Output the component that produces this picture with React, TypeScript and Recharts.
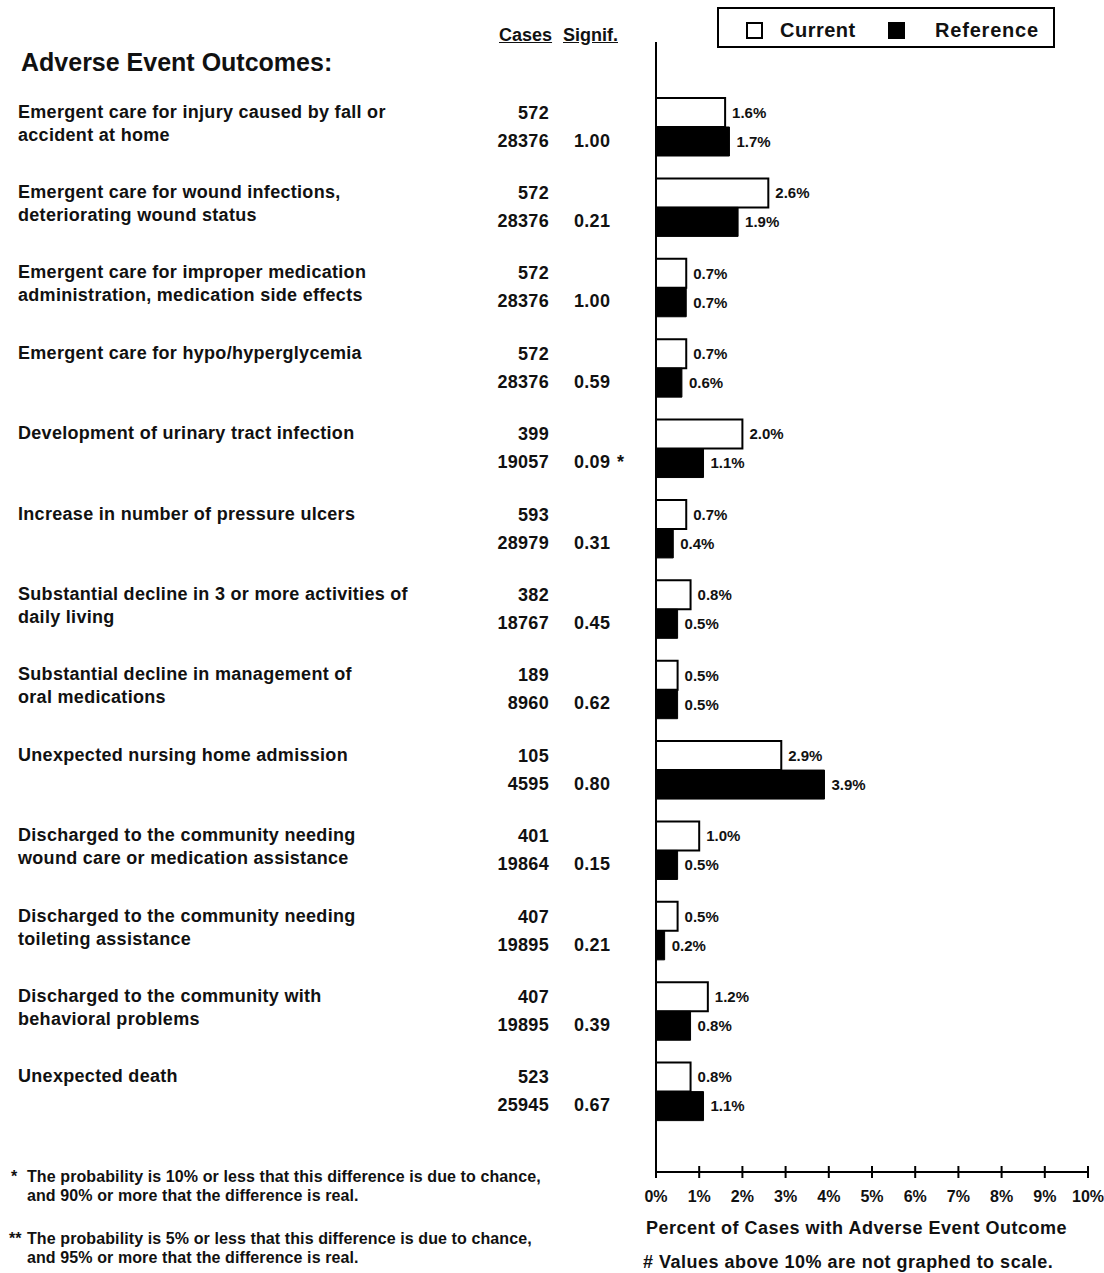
import React from 'react';
import { BarChart, Bar, XAxis, YAxis, LabelList, Legend } from 'recharts';

const FONT = '"Liberation Sans", Arial, Helvetica, sans-serif';

const categoryLines: string[][] = [
  ['Emergent care for injury caused by fall or', 'accident at home'],
  ['Emergent care for wound infections,', 'deteriorating wound status'],
  ['Emergent care for improper medication', 'administration, medication side effects'],
  ['Emergent care for hypo/hyperglycemia'],
  ['Development of urinary tract infection'],
  ['Increase in number of pressure ulcers'],
  ['Substantial decline in 3 or more activities of', 'daily living'],
  ['Substantial decline in management of', 'oral medications'],
  ['Unexpected nursing home admission'],
  ['Discharged to the community needing', 'wound care or medication assistance'],
  ['Discharged to the community needing', 'toileting assistance'],
  ['Discharged to the community with', 'behavioral problems'],
  ['Unexpected death'],
];
const currentPct = [1.6, 2.6, 0.7, 0.7, 2.0, 0.7, 0.8, 0.5, 2.9, 1.0, 0.5, 1.2, 0.8];
const referencePct = [1.7, 1.9, 0.7, 0.6, 1.1, 0.4, 0.5, 0.5, 3.9, 0.5, 0.2, 0.8, 1.1];
const currentCases = [572, 572, 572, 572, 399, 593, 382, 189, 105, 401, 407, 407, 523];
const referenceCases = [28376, 28376, 28376, 28376, 19057, 28979, 18767, 8960, 4595, 19864, 19895, 19895, 25945];
const signif = ['1.00', '0.21', '1.00', '0.59', '0.09', '0.31', '0.45', '0.62', '0.80', '0.15', '0.21', '0.39', '0.67'];
const signifMark = ['', '', '', '', '*', '', '', '', '', '', '', '', ''];
const xTicks = [0, 1, 2, 3, 4, 5, 6, 7, 8, 9, 10];

const data = categoryLines.map((lines, i) => ({
  name: lines.join(' '),
  lines,
  current: currentPct[i],
  reference: referencePct[i],
  curCases: currentCases[i],
  refCases: referenceCases[i],
  signif: signif[i],
  mark: signifMark[i],
}));

const rowText = {
  fontFamily: FONT,
  fontSize: 18,
  fontWeight: 700,
  fill: '#111',
  style: { letterSpacing: '0.3px' },
} as const;

const YTick = (props: any) => {
  const { y, index } = props;
  const d = data[index];
  if (!d) return null;
  return (
    <g>
      <text x={18} y={y - 9.5} {...rowText}>{d.lines[0]}</text>
      {d.lines[1] ? <text x={18} y={y + 13.5} {...rowText}>{d.lines[1]}</text> : null}
      <text x={549} y={y - 8.5} textAnchor="end" {...rowText}>{d.curCases}</text>
      <text x={549} y={y + 19.5} textAnchor="end" {...rowText}>{d.refCases}</text>
      <text x={574} y={y + 19.5} {...rowText}>{d.signif}</text>
      {d.mark ? <text x={617} y={y + 19.5} {...rowText}>{d.mark}</text> : null}
    </g>
  );
};

const XTick = (props: any) => {
  const { x, y, payload } = props;
  return (
    <g>
      <line x1={x} x2={x} y1={y - 6} y2={y + 6} stroke="#000" strokeWidth={2} />
      <text x={x} y={y + 30} textAnchor="middle" fontFamily={FONT} fontSize={16} fontWeight={700} fill="#111">
        {payload.value}%
      </text>
    </g>
  );
};

const pctFmt = (v: any) => `${Number(v).toFixed(1)}%`;

const LegendBox = () => (
  <div
    style={{
      width: 334,
      height: 37,
      border: '2px solid #000',
      position: 'relative',
      fontFamily: FONT,
      fontWeight: 700,
      fontSize: 20,
      color: '#111',
      background: '#fff',
    }}
  >
    <div style={{ position: 'absolute', left: 27, top: 13, width: 13, height: 13, border: '2px solid #000', background: '#fff' }} />
    <div style={{ position: 'absolute', left: 61, top: 9, lineHeight: '24px', letterSpacing: '0.5px' }}>Current</div>
    <div style={{ position: 'absolute', left: 169, top: 13, width: 17, height: 17, background: '#000' }} />
    <div style={{ position: 'absolute', left: 216, top: 9, lineHeight: '24px', letterSpacing: '0.8px' }}>Reference</div>
  </div>
);

const abs = (left: number, top: number, extra: React.CSSProperties = {}): React.CSSProperties => ({
  position: 'absolute',
  left,
  top,
  fontFamily: FONT,
  fontWeight: 700,
  color: '#111',
  whiteSpace: 'nowrap',
  ...extra,
});

export default function App() {
  return (
    <div style={{ position: 'absolute', left: 0, top: 0, width: 1104, height: 1273, background: '#fff' }}>
      <BarChart
        layout="vertical"
        width={1104}
        height={1273}
        data={data}
        margin={{ top: 42, right: 16, bottom: 71, left: 655 }}
        barGap={0}
        barSize={29}
      >
        <XAxis
          type="number"
          domain={[0, 10]}
          ticks={xTicks}
          interval={0}
          height={30}
          axisLine={{ stroke: '#000', strokeWidth: 2 }}
          tickLine={false}
          tickSize={0}
          tickMargin={0}
          tick={<XTick />}
        />
        <YAxis
          type="category"
          dataKey="name"
          width={1}
          interval={0}
          padding={{ top: 45, bottom: 40 }}
          axisLine={{ stroke: '#000', strokeWidth: 2 }}
          tickLine={false}
          tickSize={0}
          tickMargin={0}
          tick={<YTick />}
        />
        <Legend
          layout="vertical"
          verticalAlign="middle"
          align="center"
          wrapperStyle={{ left: 717, top: 7, width: 338, height: 41 }}
          content={() => <LegendBox />}
        />
        <Bar dataKey="current" name="Current" fill="#fff" stroke="#000" strokeWidth={2} isAnimationActive={false}>
          <LabelList dataKey="current" position="right" offset={7} formatter={pctFmt} fontFamily={FONT} fontSize={15} fontWeight={700} fill="#111" />
        </Bar>
        <Bar dataKey="reference" name="Reference" fill="#000" stroke="#000" strokeWidth={1} isAnimationActive={false}>
          <LabelList dataKey="reference" position="right" offset={7} formatter={pctFmt} fontFamily={FONT} fontSize={15} fontWeight={700} fill="#111" />
        </Bar>
      </BarChart>

      <div style={abs(21, 47, { fontSize: 25, lineHeight: '30px' })}>Adverse Event Outcomes:</div>
      <div style={abs(499, 24, { fontSize: 18, lineHeight: '22px', textDecoration: 'underline' })}>Cases</div>
      <div style={abs(563, 24, { fontSize: 18, lineHeight: '22px', textDecoration: 'underline' })}>Signif.</div>

      <div style={abs(646, 1217, { fontSize: 18, lineHeight: '22px', letterSpacing: '0.5px' })}>Percent of Cases with Adverse Event Outcome</div>
      <div style={abs(643, 1251, { fontSize: 18, lineHeight: '22px', letterSpacing: '0.5px' })}># Values above 10% are not graphed to scale.</div>

      <div style={abs(11, 1167, { fontSize: 16, lineHeight: '19px' })}>*</div>
      <div style={abs(27, 1167, { fontSize: 16, lineHeight: '19px', letterSpacing: '0.1px' })}>
        The probability is 10% or less that this difference is due to chance,
        <br />
        and 90% or more that the difference is real.
      </div>
      <div style={abs(9, 1229, { fontSize: 16, lineHeight: '19px' })}>**</div>
      <div style={abs(27, 1229, { fontSize: 16, lineHeight: '19px', letterSpacing: '0.1px' })}>
        The probability is 5% or less that this difference is due to chance,
        <br />
        and 95% or more that the difference is real.
      </div>
    </div>
  );
}
